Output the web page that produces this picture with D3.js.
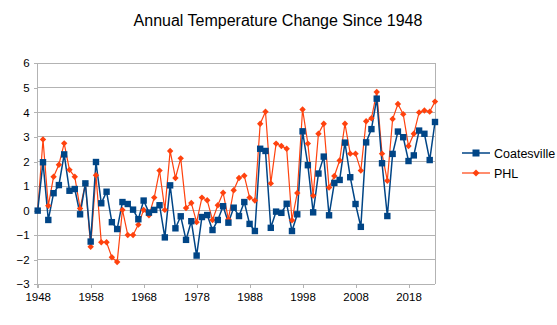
<!DOCTYPE html>
<html><head><meta charset="utf-8">
<script src="https://cdn.jsdelivr.net/npm/d3@7"></script>
<style>body{margin:0;background:#fff}svg{display:block;font-family:"Liberation Sans",Arial,sans-serif}</style>
</head><body><svg id="c" width="557" height="325"></svg>
<script>
const years = d3.range(1948, 2024);
const coatesville = [0.00,1.97,-0.38,0.71,1.04,2.29,0.81,0.88,-0.15,1.11,
  -1.26,1.98,0.30,0.77,-0.47,-0.75,0.35,0.27,0.04,-0.35,
  0.41,-0.08,0.03,0.22,-1.09,1.03,-0.72,-0.23,-1.19,-0.43,
  -1.83,-0.26,-0.18,-0.79,-0.38,0.18,-0.49,0.12,-0.22,0.35,
  -0.54,-0.83,2.52,2.43,-0.70,-0.04,-0.09,0.28,-0.83,-0.15,
  3.23,1.85,-0.07,1.51,2.20,-0.19,1.13,1.25,2.77,1.36,
  0.27,-0.66,2.78,3.32,4.56,1.93,-0.22,2.31,3.22,2.99,
  2.02,2.25,3.26,3.13,2.06,3.61];
const phl = [0.00,2.90,0.20,1.38,1.87,2.74,1.66,1.38,0.09,1.10,
  -1.47,1.44,-1.29,-1.29,-1.90,-2.09,0.03,-0.99,-0.99,-0.57,
  0.03,-0.19,0.53,1.63,0.03,2.43,1.33,2.13,0.11,0.31,
  -0.47,0.53,0.42,-0.38,0.22,0.73,-0.35,0.83,1.33,1.42,
  0.53,0.41,3.54,4.03,1.11,2.73,2.63,2.52,-0.39,0.72,
  4.12,2.73,0.61,3.13,3.54,0.94,1.41,2.04,3.54,2.32,
  2.32,1.63,3.64,3.76,4.83,2.32,1.22,3.73,4.34,3.93,
  2.63,3.13,4.00,4.08,4.03,4.44];
const xTicks = [1948,1958,1968,1978,1988,1998,2008,2018];
const yTicks = [-3,-2,-1,0,1,2,3,4,5,6];
const seriesNames = ["Coatesville","PHL"];
const colors = ["#004586","#ff420e"];

const svg = d3.select("#c");
const L = 37.7, R = 435, T = 63.3, B = 284.3;
const x = d3.scaleLinear().domain([1948, 2023]).range([L, R]);
const y = d3.scaleLinear().domain([-3, 6]).range([B, T]);

svg.append("text").attr("x", 278).attr("y", 26).attr("text-anchor","middle")
  .attr("font-size", 16).attr("fill","#000").text("Annual Temperature Change Since 1948");

svg.append("g").selectAll("line").data(yTicks).join("line")
  .attr("x1", L).attr("x2", R).attr("y1", d=>y(d)).attr("y2", d=>y(d))
  .attr("stroke","#b3b3b3").attr("stroke-width",1).attr("shape-rendering","crispEdges");
svg.append("line").attr("x1",R).attr("x2",R).attr("y1",T).attr("y2",B)
  .attr("stroke","#b3b3b3").attr("shape-rendering","crispEdges");

const gy = svg.append("g").attr("transform",`translate(${L},0)`)
  .call(d3.axisLeft(y).tickValues(yTicks).tickSize(4).tickPadding(4).tickFormat(d3.format("d")));
const gx = svg.append("g").attr("transform",`translate(0,${B})`)
  .call(d3.axisBottom(x).tickValues(xTicks).tickSize(4).tickPadding(5).tickFormat(d3.format("d")));
[gx, gy].forEach(g => {
  g.select(".domain").attr("stroke","#b3b3b3").attr("shape-rendering","crispEdges");
  g.selectAll(".tick line").attr("stroke","#b3b3b3").attr("shape-rendering","crispEdges");
  g.selectAll("text").attr("font-size",11.5).attr("fill","#000")
    .attr("font-family",'"Liberation Sans",Arial,sans-serif');
});
gx.select(".domain").attr("d", `M${L},4V0H${R}`);
gy.select(".domain").attr("d", `M-4,${B}H0V${T}H-4`);

const data = [coatesville, phl];
const line = d3.line().x((d,i)=>x(years[i])).y(d=>y(d));
[1,0].forEach(k => {
  svg.append("path").datum(data[k]).attr("d", line).attr("fill","none")
    .attr("stroke", colors[k]).attr("stroke-width", k===0?1.5:1.2);
});
svg.append("g").selectAll("path").data(phl).join("path")
  .attr("transform",(d,i)=>`translate(${x(years[i])},${y(d)})`)
  .attr("d","M0,-3.2L3.2,0L0,3.2L-3.2,0Z").attr("fill",colors[1]);
svg.append("g").selectAll("rect").data(coatesville).join("rect")
  .attr("x",(d,i)=>x(years[i])-3.2).attr("y",d=>y(d)-3.2)
  .attr("width",6.4).attr("height",6.4).attr("fill",colors[0]);

const lg = svg.append("g");
seriesNames.forEach((n,k) => {
  const ly = 153 + k*20;
  lg.append("line").attr("x1",462).attr("x2",490).attr("y1",ly).attr("y2",ly)
    .attr("stroke",colors[k]).attr("stroke-width",k===0?1.5:1.2);
  if (k===0) lg.append("rect").attr("x",472.5).attr("y",ly-3.5).attr("width",7).attr("height",7).attr("fill",colors[0]);
  else lg.append("path").attr("transform",`translate(476,${ly})`).attr("d","M0,-3.5L3.5,0L0,3.5L-3.5,0Z").attr("fill",colors[1]);
  lg.append("text").attr("x",494).attr("y",ly+4.5).attr("font-size",12.5).attr("fill","#000").text(n);
});
</script></body></html>
